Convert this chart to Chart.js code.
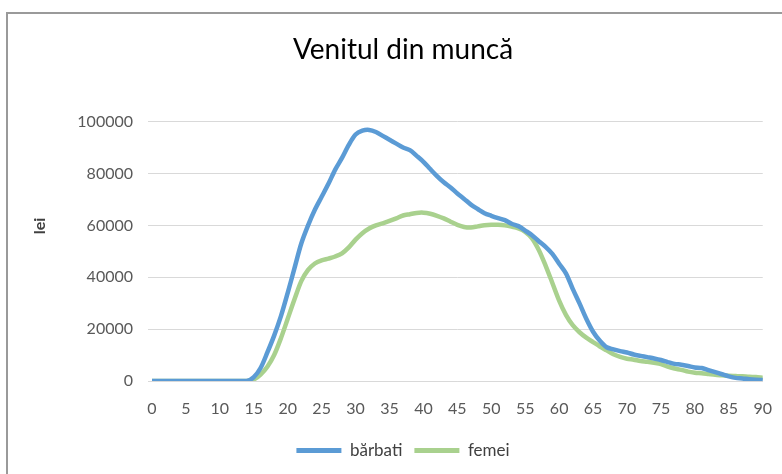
<!DOCTYPE html>
<html>
<head>
<meta charset="utf-8">
<script src="https://cdn.jsdelivr.net/npm/chart.js@4/dist/chart.umd.min.js"></script>
<style>
  html, body { margin: 0; padding: 0; background: #fff; }
  #wrap { position: relative; width: 782px; height: 474px; overflow: hidden; }
  #frame { position: absolute; left: 6px; top: 12px; width: 800px; height: 500px;
           border: 2px solid #9a9a9a; box-sizing: border-box; }
  #chart { position: absolute; left: 0; top: 0; }
</style>
</head>
<body>
<div id="wrap">
  <div id="frame"></div>
  <canvas id="chart" width="782" height="474"></canvas>
</div>
<script>
// date: venitul din muncă pe vârste (lei)
const ages = [0,1,2,3,4,5,6,7,8,9,10,11,12,13,14,15,16,17,18,19,20,21,22,23,24,25,26,27,28,29,
  30,31,32,33,34,35,36,37,38,39,40,41,42,43,44,45,46,47,48,49,50,51,52,53,54,55,56,57,58,59,
  60,61,62,63,64,65,66,67,68,69,70,71,72,73,74,75,76,77,78,79,80,81,82,83,84,85,86,87,88,89,90];

const barbati = [0,0,0,0,0,0,0,0,0,0,0,0,0,0,0,1500,5000,11000,17500,25000,
  34000,43500,53000,60000,66000,71000,76000,81500,86000,91000,
  95000,96500,96800,96000,94500,93000,91500,90000,89000,86800,
  84500,81700,79000,76600,74600,72300,70200,68000,66300,64700,
  63700,62800,62000,60600,59700,58000,56200,53900,51700,49000,
  45200,41500,35500,29900,24000,19000,15500,13000,12200,11500,
  11000,10200,9700,9200,8700,8100,7300,6600,6300,5800,
  5200,5000,4200,3400,2600,1800,1200,1000,700,500,400];

const femei = [0,0,0,0,0,0,0,0,0,0,0,0,0,0,0,600,2500,5500,10000,16500,
  24000,31500,38500,42800,45300,46500,47200,48000,49200,51500,
  54500,57000,58800,60000,60800,61700,62700,63800,64300,64800,
  64900,64500,63700,62700,61400,60200,59400,59200,59600,60000,
  60200,60200,60000,59500,58800,57500,55000,50500,44500,37800,
  31000,25500,21500,18800,16700,15000,13300,11800,10300,9300,
  8600,8200,7700,7400,7000,6500,5500,4800,4300,3600,
  3200,3000,2700,2400,2200,2000,1900,1800,1600,1500,1300];

const yTicks = [0, 20000, 40000, 60000, 80000, 100000];

const FONT = 'Lato, "Open Sans", sans-serif';
const BLUE = '#5B9BD5';
const GREEN = '#A9D18E';

function pairs(vals) {
  return ages.map((a, i) => ({ x: a, y: vals[i] }));
}

// titlul axei Y ("lei") desenat ca in Excel, putin deasupra centrului
const yTitlePlugin = {
  id: 'yTitle',
  afterDraw(chart) {
    const ctx = chart.ctx;
    ctx.save();
    ctx.translate(40, 226);
    ctx.rotate(-Math.PI / 2);
    ctx.font = 'bold 16px ' + FONT;
    ctx.fillStyle = '#404040';
    ctx.textAlign = 'center';
    ctx.textBaseline = 'middle';
    ctx.fillText('lei', 0, 0);
    ctx.restore();
  }
};

new Chart(document.getElementById('chart'), {
  type: 'line',
  data: {
    datasets: [
      { label: 'bărbati', data: pairs(barbati), borderColor: BLUE, backgroundColor: BLUE,
        borderWidth: 4.5, pointRadius: 0, tension: 0.3, borderCapStyle: 'round' },
      { label: 'femei', data: pairs(femei), borderColor: GREEN, backgroundColor: GREEN,
        borderWidth: 4.5, pointRadius: 0, tension: 0.3, borderCapStyle: 'round' }
    ]
  },
  options: {
    responsive: false,
    animation: false,
    layout: { padding: { left: 40, right: 16, top: 12, bottom: 5 } },
    scales: {
      x: {
        type: 'linear', min: 0, max: 90,
        afterFit: s => { s.height = 49; },
        grid: { display: false },
        border: { display: true, color: '#D9D9D9', width: 1 },
        ticks: { stepSize: 5, autoSkip: false, maxRotation: 0, padding: 10,
                 color: '#595959', font: { family: FONT, size: 16 } }
      },
      y: {
        min: 0, max: 100000,
        afterFit: s => { s.width = 112; },
        afterBuildTicks: s => { s.ticks = yTicks.map(v => ({ value: v })); },
        grid: { color: '#D9D9D9', lineWidth: 1, drawTicks: true, tickLength: 4 },
        border: { display: false },
        ticks: { padding: 15, color: '#595959', font: { family: FONT, size: 16 },
                 callback: v => String(v) }
      }
    },
    plugins: {
      title: {
        display: true, text: 'Venitul din muncă', color: '#000',
        font: { family: FONT, size: 28, weight: 'normal' },
        padding: { top: 21, bottom: 55 }
      },
      legend: {
        position: 'bottom',
        labels: {
          boxWidth: 45, boxHeight: 5, padding: 12, color: '#404040',
          font: { family: FONT, size: 17 },
          generateLabels: chart => chart.data.datasets.map((ds, i) => ({
            text: ds.label, fillStyle: ds.borderColor, strokeStyle: ds.borderColor,
            lineWidth: 0, hidden: false, datasetIndex: i, fontColor: '#404040'
          }))
        }
      },
      tooltip: { enabled: false }
    }
  },
  plugins: [yTitlePlugin]
});
</script>
</body>
</html>
